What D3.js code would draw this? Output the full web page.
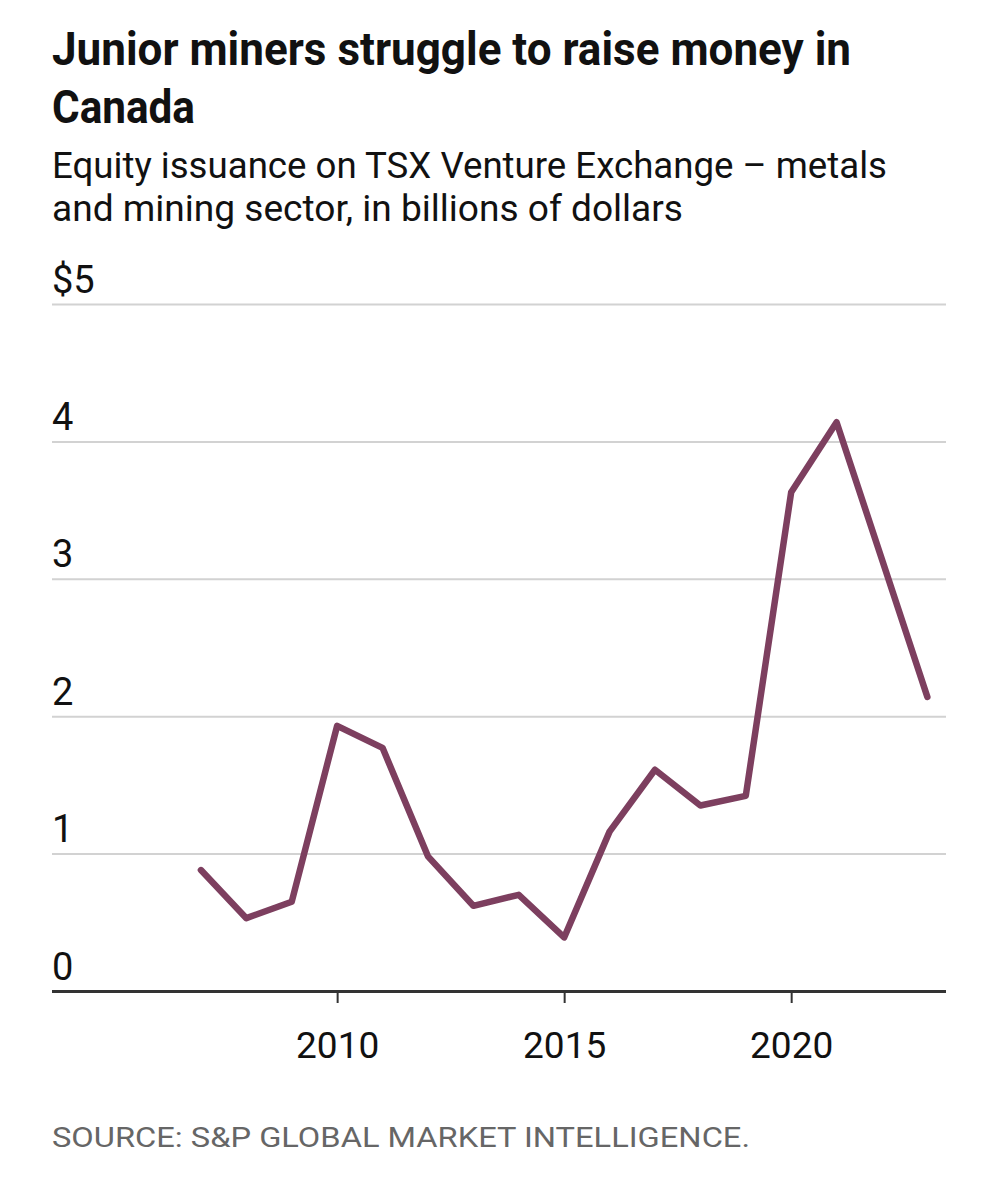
<!DOCTYPE html>
<html>
<head>
<meta charset="utf-8">
<script src="https://cdn.jsdelivr.net/npm/d3@7"></script>
<style>
  html, body { margin: 0; padding: 0; background: #fff; }
  svg { display: block; }
</style>
</head>
<body>
<div id="chart"></div>
<script>
// ---- Data ----
const years = [2007, 2008, 2009, 2010, 2011, 2012, 2013, 2014, 2015, 2016, 2017, 2018, 2019, 2020, 2021, 2022, 2023];
const issuance = [0.88, 0.53, 0.65, 1.93, 1.77, 0.98, 0.62, 0.70, 0.39, 1.16, 1.61, 1.35, 1.42, 3.63, 4.14, 3.14, 2.14];
const yTicks = [0, 1, 2, 3, 4, 5];
const xTicks = [2010, 2015, 2020];
const titleLines = ["Junior miners struggle to raise money in", "Canada"];
const subtitleLines = ["Equity issuance on TSX Venture Exchange \u2013 metals", "and mining sector, in billions of dollars"];
const sourceText = "SOURCE: S&P GLOBAL MARKET INTELLIGENCE.";

// ---- Layout ----
const W = 1004, H = 1200;
const plotLeft = 52, plotRight = 946, plotTop = 304, plotBottom = 991;
const font = "Roboto, 'Noto Sans', sans-serif";

const svg = d3.select("#chart").append("svg").attr("width", W).attr("height", H);

// Title
const titleWidths = [799, 143];
const titleY = [65, 123];
titleLines.forEach((t, i) => {
  svg.append("text").attr("x", plotLeft).attr("y", titleY[i])
    .attr("font-family", font).attr("font-weight", 700).attr("font-size", 46)
    .attr("fill", "#111")
    .attr("textLength", titleWidths[i]).attr("lengthAdjust", "spacingAndGlyphs")
    .text(t);
});
const subWidths = [835, 631];
const subY = [178, 221];
subtitleLines.forEach((t, i) => {
  svg.append("text").attr("x", plotLeft).attr("y", subY[i])
    .attr("font-family", font).attr("font-weight", 400).attr("font-size", 36)
    .attr("fill", "#111")
    .attr("textLength", subWidths[i]).attr("lengthAdjust", "spacingAndGlyphs")
    .text(t);
});

// Scales
const x = d3.scaleLinear().domain([2003.72, 2023.41]).range([plotLeft, plotRight]);
const y = d3.scaleLinear().domain([0, 5]).range([plotBottom, plotTop]);

// Y axis (gridlines + labels)
const yAxis = d3.axisRight(y).tickValues(yTicks).tickSize(plotRight - plotLeft)
  .tickFormat(d => d === 5 ? "$5" : String(d));
const gy = svg.append("g").attr("transform", `translate(${plotLeft},0)`).call(yAxis);
gy.select(".domain").remove();
gy.selectAll(".tick line").attr("stroke", d => d === 0 ? "#333" : "#d2d2d2")
  .attr("stroke-width", d => d === 0 ? 3 : 2);
gy.selectAll(".tick text").attr("x", 0).attr("dy", null).attr("y", -12)
  .attr("text-anchor", "start").attr("font-family", font)
  .attr("font-size", 38).attr("fill", "#111");

// X axis
const xAxis = d3.axisBottom(x).tickValues(xTicks).tickSize(12).tickFormat(d3.format("d"));
const gx = svg.append("g").attr("transform", `translate(0,${plotBottom})`).call(xAxis);
gx.select(".domain").remove();
gx.selectAll(".tick line").attr("stroke", "#333").attr("stroke-width", 2);
gx.selectAll(".tick text").attr("dy", null).attr("y", 67)
  .attr("font-family", font).attr("font-size", 37).attr("fill", "#111");

// Line
const data = years.map((yr, i) => ({ yr, v: issuance[i] }));
const line = d3.line().x(d => x(d.yr)).y(d => y(d.v));
svg.append("path").datum(data).attr("d", line)
  .attr("fill", "none").attr("stroke", "#7d3f5f").attr("stroke-width", 6.5)
  .attr("stroke-linejoin", "round").attr("stroke-linecap", "round");

// Source
svg.append("text").attr("x", plotLeft).attr("y", 1147)
  .attr("font-family", font).attr("font-size", 27).attr("fill", "#666")
  .attr("textLength", 698).attr("lengthAdjust", "spacingAndGlyphs")
  .text(sourceText);
</script>
</body>
</html>
